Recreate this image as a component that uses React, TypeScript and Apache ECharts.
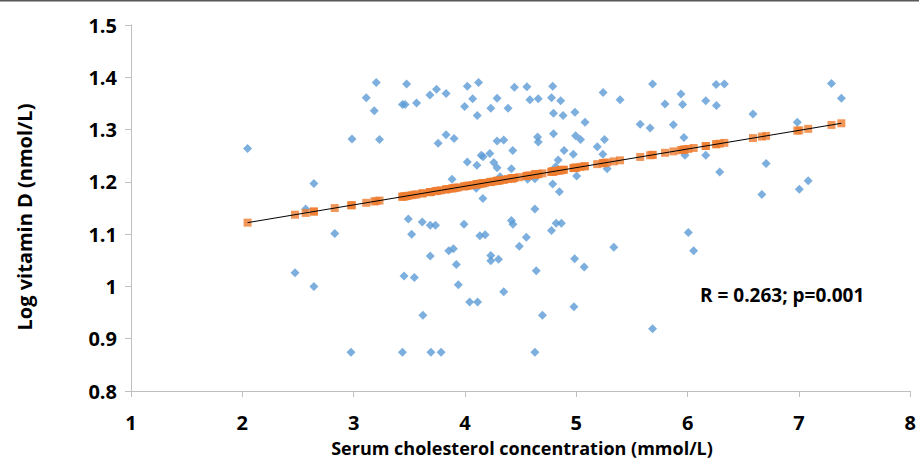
import React, { useEffect, useRef } from "react";
import * as echarts from "echarts";

// Serum cholesterol (mmol/L) values of each observation
const cholesterol: number[] = [
  2.047, 2.643, 2.569, 2.473, 2.643,
  3.203, 3.476, 3.113, 3.185, 3.438, 3.462, 3.565, 3.685, 3.744, 3.83, 4.021, 4.122, 4.069, 3.997, 4.11,
  4.232, 4.288, 4.387, 4.444, 4.556, 2.985, 3.232, 3.759, 3.83, 3.902, 4.288, 4.348, 4.429, 4.021, 4.107,
  4.146, 4.163, 4.223, 4.259, 4.288, 4.417, 3.884, 4.101, 4.161, 4.315, 4.563, 2.83, 3.491, 3.521, 3.616,
  3.688, 3.735, 3.991, 4.134, 4.181, 4.417, 4.431, 4.551, 4.488, 3.854, 3.896, 3.688, 3.922, 4.232, 4.232,
  4.301, 3.453, 3.545, 3.94, 4.348, 3.622, 4.042, 4.113, 2.976, 3.438, 3.694, 3.786,
  4.788, 4.583, 4.658, 4.777, 4.86, 4.795, 4.881, 4.988, 5.078, 5.241, 5.393, 5.685, 5.797, 5.94, 5.955,
  6.163, 6.256, 6.33, 4.652, 4.658, 4.795, 4.994, 5.038, 5.253, 5.188, 5.574, 5.663, 5.872, 5.967, 4.89,
  4.973, 5.238, 4.837, 4.815, 5.277, 4.628, 5.003, 4.788, 4.848, 5.976, 6.163, 4.628, 4.777, 4.819, 4.866,
  5.337, 4.985, 5.071, 4.64, 6.006, 6.054, 4.696, 4.979, 5.685, 4.628,
  6.259, 6.587, 7.292, 7.381, 6.985, 6.288, 6.705, 6.667, 7.003, 7.083,
];

// Log vitamin D (nmol/L) values, same order
const logVitaminD: number[] = [
  1.264, 1.197, 1.148, 1.026, 1.0,
  1.39, 1.387, 1.361, 1.336, 1.348, 1.348, 1.351, 1.366, 1.377, 1.369, 1.383, 1.39, 1.359, 1.344, 1.327,
  1.341, 1.36, 1.341, 1.381, 1.382, 1.282, 1.281, 1.274, 1.29, 1.283, 1.278, 1.28, 1.26, 1.238, 1.232,
  1.251, 1.248, 1.254, 1.237, 1.227, 1.225, 1.205, 1.188, 1.168, 1.21, 1.205, 1.101, 1.129, 1.1, 1.123,
  1.117, 1.117, 1.119, 1.097, 1.099, 1.126, 1.119, 1.094, 1.077, 1.068, 1.072, 1.058, 1.042, 1.059, 1.049,
  1.052, 1.02, 1.017, 1.003, 0.99, 0.945, 0.97, 0.97, 0.874, 0.874, 0.874, 0.874,
  1.383, 1.357, 1.359, 1.361, 1.355, 1.331, 1.327, 1.333, 1.314, 1.371, 1.357, 1.387, 1.349, 1.368, 1.348,
  1.355, 1.386, 1.387, 1.286, 1.276, 1.292, 1.288, 1.281, 1.281, 1.267, 1.31, 1.303, 1.309, 1.285, 1.26,
  1.253, 1.253, 1.242, 1.229, 1.225, 1.206, 1.211, 1.196, 1.181, 1.251, 1.251, 1.148, 1.107, 1.121, 1.121,
  1.075, 1.053, 1.037, 1.03, 1.103, 1.068, 0.945, 0.961, 0.919, 0.874,
  1.346, 1.33, 1.388, 1.36, 1.314, 1.219, 1.235, 1.176, 1.186, 1.202,
];

// Linear trend (intercept, slope)
const trendIntercept = 1.0491;
const trendSlope = 0.03562;

const xTicks = [1, 2, 3, 4, 5, 6, 7, 8];
const yTicks = [0.8, 0.9, 1.0, 1.1, 1.2, 1.3, 1.4, 1.5];

const annotation = "R = 0.263; p=0.001";
const xTitle = "Serum cholesterol concentration (mmol/L)";
const yTitle = "Log vitamin D (nmol/L)";

const FONT = "'Open Sans'";

export default function App() {
  const ref = useRef<HTMLDivElement>(null);

  useEffect(() => {
    if (!ref.current) return;
    const chart = echarts.init(ref.current, undefined, { renderer: "svg" });

    const observed = cholesterol.map((x, i) => [x, logVitaminD[i]]);
    const fitted = cholesterol.map((x) => [x, trendIntercept + trendSlope * x]);
    const xMinData = Math.min(...cholesterol);
    const xMaxData = Math.max(...cholesterol);
    const trendLine = [
      [xMinData, trendIntercept + trendSlope * xMinData],
      [xMaxData, trendIntercept + trendSlope * xMaxData],
    ];

    const labelStyle = {
      color: "#000",
      fontFamily: FONT,
      fontWeight: "bold" as const,
      fontSize: 20,
    };

    chart.setOption({
      animation: false,
      backgroundColor: "#fff",
      grid: { left: 131, right: 4, top: 25, bottom: 69 },
      xAxis: {
        type: "value",
        min: xTicks[0],
        max: xTicks[xTicks.length - 1],
        interval: 1,
        axisLine: { show: true, lineStyle: { color: "#BFBFBF", width: 1 } },
        axisTick: { show: true, length: 6, lineStyle: { color: "#BFBFBF" } },
        axisLabel: { ...labelStyle, margin: 21, formatter: (v: number) => String(v) },
        splitLine: { show: false },
      },
      yAxis: {
        type: "value",
        min: yTicks[0],
        max: yTicks[yTicks.length - 1],
        interval: 0.1,
        axisLine: { show: true, lineStyle: { color: "#BFBFBF", width: 1 } },
        axisTick: { show: true, length: 6, lineStyle: { color: "#BFBFBF" } },
        axisLabel: {
          ...labelStyle,
          margin: 14,
          formatter: (v: number) => String(Math.round(v * 10) / 10),
        },
        splitLine: { show: false },
      },
      series: [
        {
          type: "scatter",
          data: observed,
          symbol: "diamond",
          symbolSize: [9, 9],
          itemStyle: { color: "#5B9BD5" },
          z: 2,
        },
        {
          type: "scatter",
          data: fitted,
          symbol: "rect",
          symbolSize: [8, 8],
          itemStyle: { color: "#ED7D31" },
          z: 3,
        },
        {
          type: "line",
          data: trendLine,
          symbol: "none",
          lineStyle: { color: "#000", width: 1 },
          z: 4,
        },
      ],
      graphic: [
        {
          type: "text",
          x: 24,
          y: 217,
          rotation: Math.PI / 2,
          style: {
            text: yTitle,
            fill: "#000",
            font: `bold 20px ${FONT}`,
            align: "center",
            verticalAlign: "middle",
          },
        },
        {
          type: "text",
          x: 522,
          y: 448,
          style: {
            text: xTitle,
            fill: "#000",
            font: `bold 18px ${FONT}`,
            align: "center",
            verticalAlign: "middle",
          },
        },
        {
          type: "text",
          left: 700,
          top: 285,
          style: {
            text: annotation,
            fill: "#000",
            font: `bold 19px ${FONT}`,
          },
        },
        {
          type: "rect",
          shape: { x: 0, y: 0, width: 919, height: 1.5 },
          style: { fill: "#595959" },
        },
      ],
    });

    return () => chart.dispose();
  }, []);

  return (
    <div
      ref={ref}
      style={{ position: "fixed", left: 0, top: 0, width: 919, height: 460 }}
    />
  );
}
